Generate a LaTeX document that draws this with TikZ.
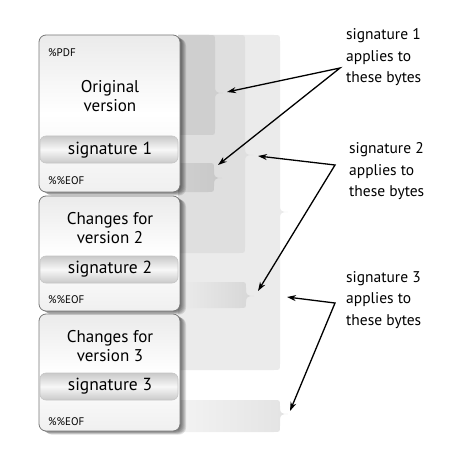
\documentclass[tikz,border=0pt]{standalone}
\usepackage{fontspec}
\setmainfont{PT Sans}
\usetikzlibrary{arrows.meta}
\definecolor{cA}{RGB}{207,207,207}
\definecolor{cAr}{RGB}{200,200,200}
\definecolor{cB}{RGB}{223,223,223}
\definecolor{cBr}{RGB}{214,214,214}
\definecolor{cC}{RGB}{235,235,235}
\definecolor{cCr}{RGB}{227,227,227}
\definecolor{boxline}{RGB}{120,120,120}
\newcommand\brk[6]{%
  \path[#6] (#1,#2) -- ({#3-6},#2) .. controls (#3,#2) .. (#3,{#2+6})
    -- (#3,{#5-6}) .. controls (#3,{#5-1}) and ({#3+2},#5) .. ({#3+8},#5)
    .. controls ({#3+2},#5) and (#3,{#5+1}) .. (#3,{#5+6})
    -- (#3,{#4-6}) .. controls (#3,#4) .. ({#3-6},#4) -- (#1,#4) -- cycle;}
\tikzset{
  verbox/.style={draw=boxline, line width=0.8pt, rounded corners=7pt,
    top color=gray!16, bottom color=gray!12, middle color=white},
  sigbar/.style={draw=gray!45, line width=0.6pt, rounded corners=6pt,
    top color=gray!42, bottom color=gray!42, middle color=gray!6},
  small/.style={font=\fontsize{11}{13}\selectfont, inner sep=0pt, anchor=west},
  big/.style={font=\fontsize{17}{19}\selectfont, align=center, inner sep=0pt},
  sigtxt/.style={font=\fontsize{17.5}{20}\selectfont, inner sep=0pt},
  lbl/.style={font=\fontsize{15.5}{21.5}\selectfont, align=left, inner sep=0pt, anchor=west},
  arr/.style={line width=1.3pt, {Stealth[length=9pt,width=6pt]}-{Stealth[length=9pt,width=6pt]}},
}
\begin{document}
\begin{tikzpicture}[x=1pt,y=-1pt]
\useasboundingbox (0,0) rectangle (453,473);
% byte ranges (back to front)
\brk{178}{35}{280}{370}{212}{fill=cC}
\brk{178}{400}{280}{432}{414}{left color=cC!60!white, right color=cCr}
\brk{178}{35}{245}{253}{155}{fill=cB}
\brk{178}{282}{246}{308}{296}{left color=cB!60!white, right color=cBr}
\brk{178}{35}{215}{135}{93}{fill=cA}
\brk{178}{163}{214}{192}{178}{left color=cA, right color=cAr}
% shadows
\foreach \yt/\yb in {35/192,196/311,314/431}{
  \foreach \d in {1,2,3,4,5,6}{
    \fill[black, opacity=0.11, rounded corners=7pt] ({39+\d},{\yt+0.6*\d}) rectangle ({180+\d},{\yb+0.6*\d});
  }
}
% version boxes
\path[verbox] (39,35) rectangle (180,192);
\path[verbox] (39,196) rectangle (180,311);
\path[verbox] (39,314) rectangle (180,431);
\path[sigbar] (40,136) rectangle (178,163);
\path[sigbar] (40,256) rectangle (178,283);
\path[sigbar] (40,373) rectangle (178,400);
% texts in boxes
\node[small] (pdf) at (48,53) {\%PDF};
\node[big] (orig) at (110,96) {Original\\version};
\node[sigtxt] (s1) at (110,150) {signature 1};
\node[small] (eof1) at (48,181) {\%\%EOF};
\node[big] (ch2) at (110,228) {Changes for\\version 2};
\node[sigtxt] (s2) at (110,269) {signature 2};
\node[small] (eof2) at (48,300) {\%\%EOF};
\node[big] (ch3) at (110,346) {Changes for\\version 3};
\node[sigtxt] (s3) at (110,386) {signature 3};
\node[small] (eof3) at (48,422) {\%\%EOF};
% labels
\node[lbl] (l1) at (346,57.5) {signature 1\\applies to\\these bytes};
\node[lbl] (l2) at (349,171.5) {signature 2\\applies to\\these bytes};
\node[lbl] (l3) at (346,300) {signature 3\\applies to\\these bytes};
% arrow vertices and targets
\coordinate (v1) at (340,68);
\coordinate (v2) at (335,165);
\coordinate (v3) at (335,303);
\coordinate (a1) at (227,92);
\coordinate (b1) at (218,165);
\coordinate (a2) at (258,156);
\coordinate (b2) at (258,291);
\coordinate (a3) at (287,297);
\coordinate (b3) at (290,411);
\draw[arr] (a1) -- (v1) -- (b1);
\draw[arr] (a2) -- (v2) -- (b2);
\draw[arr] (a3) -- (v3) -- (b3);
\end{tikzpicture}
\end{document}
